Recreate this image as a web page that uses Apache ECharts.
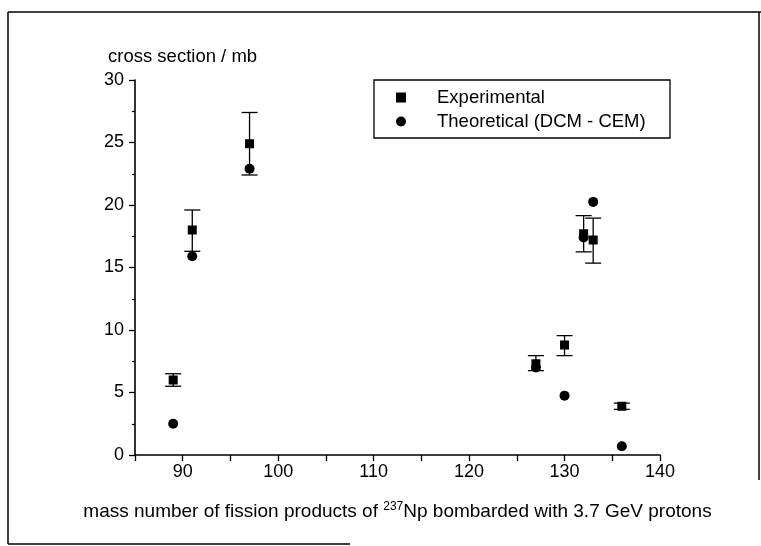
<!DOCTYPE html>
<html>
<head>
<meta charset="utf-8">
<script src="https://cdn.jsdelivr.net/npm/echarts@6/dist/echarts.min.js"></script>
<style>
html,body{margin:0;padding:0;background:#fff;}
#chart{width:761px;height:546px;}
</style>
</head>
<body>
<div id="chart"></div>
<script>
// ---- data ----
var massNumbers = [89, 91, 97, 127, 130, 132, 133, 136];
var expValues   = [6.0, 18.0, 24.9, 7.3, 8.8, 17.7, 17.2, 3.9];
var expLow      = [5.5, 16.3, 22.4, 6.75, 7.95, 16.25, 15.35, 3.65];
var expHigh     = [6.5, 19.6, 27.4, 7.95, 9.55, 19.15, 18.95, 4.15];
var theoValues  = [2.5, 15.9, 22.9, 7.0, 4.75, 17.4, 20.25, 0.7];
var seriesNames = ['Experimental', 'Theoretical (DCM - CEM)'];
var xTicks = [90, 100, 110, 120, 130, 140];

var FONT = 'Liberation Sans, Arial, sans-serif';

var expData = massNumbers.map(function (m, i) { return [m, expValues[i]]; });
var theoData = massNumbers.map(function (m, i) { return [m, theoValues[i]]; });
var errData = massNumbers.map(function (m, i) { return [m, expLow[i], expHigh[i]]; });

var chart = echarts.init(document.getElementById('chart'), null, {renderer: 'canvas'});

var option = {
  backgroundColor: '#fff',
  animation: false,
  grid: {left: 135, right: 101, top: 80, bottom: 91, containLabel: false},
  xAxis: {
    type: 'value', min: 85, max: 140, interval: 5,
    axisLine: {show: true, onZero: false, lineStyle: {color: '#000', width: 1.6}},
    axisTick: {show: true, length: 6, inside: false, lineStyle: {color: '#000', width: 1.3}},
    splitLine: {show: false},
    axisLabel: {
      margin: 8, color: '#000', fontFamily: FONT, fontSize: 18,
      formatter: function (v) { return xTicks.indexOf(v) >= 0 ? String(v) : ''; }
    },
    name: '{a|mass number of fission products of }{s|237}{a|Np bombarded with 3.7 GeV protons}',
    nameLocation: 'middle', nameGap: 46,
    nameTextStyle: {
      rich: {
        a: {fontFamily: FONT, fontSize: 19, color: '#000'},
        s: {fontFamily: FONT, fontSize: 12, color: '#000', verticalAlign: 'top', padding: [0, 0, 10, 0]}
      }
    }
  },
  yAxis: {
    type: 'value', min: 0, max: 30, interval: 5,
    axisLine: {show: true, onZero: false, lineStyle: {color: '#000', width: 1.6}},
    axisTick: {show: true, length: 6, lineStyle: {color: '#000', width: 1.3}},
    minorTick: {show: true, splitNumber: 2, length: 3, lineStyle: {color: '#000', width: 1.2}},
    splitLine: {show: false},
    axisLabel: {margin: 11, color: '#000', fontFamily: FONT, fontSize: 18},
    name: 'cross section / mb',
    nameLocation: 'end', nameGap: 14,
    nameTextStyle: {color: '#000', fontFamily: FONT, fontSize: 18.5, align: 'left', padding: [0, 0, 0, -27]}
  },
  legend: {
    show: true, orient: 'vertical', left: 391, top: 83, itemGap: 5,
    itemWidth: 10, itemHeight: 10,
    textStyle: {color: '#000', fontFamily: FONT, fontSize: 18.5, padding: [0, 0, 0, 26]},
    data: [
      {name: seriesNames[0], icon: 'rect', itemStyle: {color: '#000', opacity: 1}},
      {name: seriesNames[1], icon: 'circle', itemStyle: {color: '#000', opacity: 1}}
    ]
  },
  series: [
    {
      type: 'custom', name: 'err', silent: true, z: 3,
      renderItem: function (params, api) {
        var x = api.value(0);
        var lo = api.coord([x, api.value(1)]);
        var hi = api.coord([x, api.value(2)]);
        var hw = 8;
        var st = {stroke: '#000', lineWidth: 1.3};
        return {
          type: 'group',
          children: [
            {type: 'line', shape: {x1: lo[0], y1: lo[1], x2: hi[0], y2: hi[1]}, style: st},
            {type: 'line', shape: {x1: lo[0] - hw, y1: lo[1], x2: lo[0] + hw, y2: lo[1]}, style: st},
            {type: 'line', shape: {x1: hi[0] - hw, y1: hi[1], x2: hi[0] + hw, y2: hi[1]}, style: st}
          ]
        };
      },
      encode: {x: 0, y: [1, 2]},
      data: errData
    },
    {
      type: 'scatter', name: seriesNames[1], symbol: 'circle', symbolSize: 10, z: 4,
      itemStyle: {color: '#000', opacity: 1},
      data: theoData
    },
    {
      type: 'scatter', name: seriesNames[0], symbol: 'rect', symbolSize: 9, z: 5,
      itemStyle: {color: '#000', opacity: 1},
      data: expData
    }
  ],
  graphic: [
    {type: 'rect', shape: {x: 374, y: 80, width: 296, height: 58}, style: {fill: null, stroke: '#000', lineWidth: 1.3}, z: 10},
    {type: 'line', shape: {x1: 8, y1: 12, x2: 761, y2: 12}, style: {stroke: '#000', lineWidth: 1.5}},
    {type: 'line', shape: {x1: 8, y1: 12, x2: 8, y2: 544}, style: {stroke: '#000', lineWidth: 1.5}},
    {type: 'line', shape: {x1: 759, y1: 12, x2: 759, y2: 480}, style: {stroke: '#000', lineWidth: 1.5}},
    {type: 'line', shape: {x1: 8, y1: 544, x2: 350, y2: 544}, style: {stroke: '#000', lineWidth: 1.5}}
  ]
};
chart.setOption(option);
</script>
</body>
</html>
